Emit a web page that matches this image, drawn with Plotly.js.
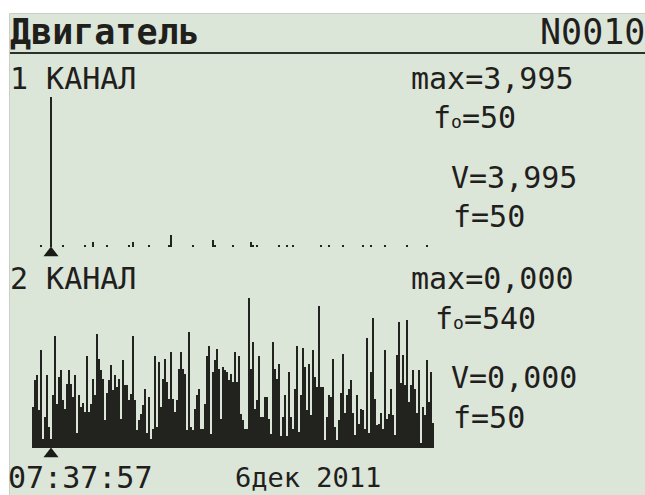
<!DOCTYPE html>
<html><head><meta charset="utf-8">
<script src="https://cdn.plot.ly/plotly-3.0.1.min.js"></script>
<style>html,body{margin:0;padding:0;background:#fff;}#chart{width:645px;height:495px;}</style>
</head><body><div id="chart"></div>
<script>
// ---- data ----
const nBins = 201;
const markerBin = 9;
// channel 1 spectrum: sparse lines (bin index, level)
const ch1Bins   = [4, 9, 15, 26, 30, 37, 48, 50, 58, 68, 69, 80, 90, 91, 100, 109, 110, 112, 123, 127, 130, 144, 148, 155, 165, 169, 176, 187, 197];
const ch1Levels = [2, 150, 2, 2, 5, 2, 2, 5, 2, 2, 12, 2, 7, 2, 2, 5, 2, 2, 2, 2, 2, 2, 2, 2, 2, 2, 2, 2, 2];
// channel 2 spectrum: every bin
const ch2Levels = [
 41,68,73,38,98,9,31,73,21,9,
 53,112,44,71,78,48,39,64,78,64,
 51,73,15,53,41,45,36,92,36,44,
 69,53,114,89,78,69,28,55,68,83,
 58,73,61,69,29,88,63,63,48,54,
 112,48,18,28,34,43,59,15,51,9,
 19,92,21,86,41,69,89,66,49,96,
 49,36,48,79,96,79,74,18,116,21,
 18,39,53,59,19,19,44,92,102,14,
 76,88,99,79,29,81,78,76,68,74,
 66,96,66,92,34,28,19,19,150,79,
 106,39,48,92,31,31,51,51,29,14,
 106,79,69,84,12,31,53,12,76,31,
 19,59,102,16,53,100,81,38,84,33,
 98,71,61,142,61,61,8,31,53,51,
 89,21,8,28,55,94,35,53,59,68,
 35,13,53,24,39,38,19,110,15,76,
 130,49,23,24,35,19,98,29,34,59,
 33,13,93,126,65,93,63,128,46,63,
 78,59,35,78,5,41,33,88,46,76,25];
const title = 'Двигатель';
const fileNo = 'N0010';
const ch1Label = '1 КАНАЛ', ch2Label = '2 КАНАЛ';
const ch1Max = '3,995', ch1F0 = '50', ch1V = '3,995', ch1F = '50';
const ch2Max = '0,000', ch2F0 = '540', ch2V = '0,000', ch2F = '50';
const timeText = '07:37:57', dateText = '6дек 2011';

// ---- build ----
const bins = Array.from({length: nBins}, (_, i) => i);
const ch1Full = bins.map(() => 0);
ch1Bins.forEach((b, i) => { ch1Full[b] = ch1Levels[i]; });

const W = 645, H = 495;
const ink = '#1f201c';
const bg = '#dbe5d8';
const fx = px => px / W;
const fy = py => 1 - py / H;

const traces = [
  {type: 'bar', x: bins, y: ch1Full, xaxis: 'x', yaxis: 'y', width: 1,
   marker: {color: '#22231e', line: {width: 0}}, hoverinfo: 'skip'},
  {type: 'bar', x: bins, y: ch2Levels, xaxis: 'x2', yaxis: 'y2', width: 1,
   marker: {color: '#22231e', line: {width: 0}}, hoverinfo: 'skip'},
  {type: 'scatter', mode: 'markers', x: [markerBin], y: [-6], xaxis: 'x', yaxis: 'y',
   marker: {symbol: 'triangle-up', size: 13, color: '#1a1b17'}, hoverinfo: 'skip'},
  {type: 'scatter', mode: 'markers', x: [markerBin], y: [-6], xaxis: 'x2', yaxis: 'y2',
   marker: {symbol: 'triangle-up', size: 13, color: '#1a1b17'}, hoverinfo: 'skip'}
];

const hidden = {showgrid: false, zeroline: false, showticklabels: false, showline: false, ticks: '', fixedrange: true};
const xd = [fx(32), fx(434)];

function ann(text, x, yc, size, anchor, weight) {
  return {text: text, xref: 'paper', yref: 'paper', x: fx(x), y: fy(yc),
    xanchor: anchor || 'left', yanchor: 'middle', showarrow: false,
    font: {family: 'DejaVu Sans Mono', size: size, color: ink, weight: weight || 'normal'}, borderpad: 0};
}
const sub = '<span style="font-size:18px">o</span>';

const layout = {
  width: W, height: H, margin: {l: 0, r: 0, t: 0, b: 0},
  paper_bgcolor: '#ffffff', plot_bgcolor: 'rgba(0,0,0,0)',
  showlegend: false, bargap: 0,
  xaxis:  Object.assign({domain: xd, range: [-0.5, nBins - 0.5], anchor: 'y'}, hidden),
  yaxis:  Object.assign({domain: [fy(261), fy(97)], range: [-14, 150], anchor: 'x'}, hidden),
  xaxis2: Object.assign({domain: xd, range: [-0.5, nBins - 0.5], anchor: 'y2'}, hidden),
  yaxis2: Object.assign({domain: [fy(462), fy(298)], range: [-14, 150], anchor: 'x2'}, hidden),
  shapes: [
    {type: 'rect', xref: 'paper', yref: 'paper', x0: fx(9.5), x1: 1.01, y0: -0.01, y1: fy(13.5),
     fillcolor: bg, line: {color: '#c9cec6', width: 1}, layer: 'below'},
    {type: 'line', xref: 'paper', yref: 'paper', x0: fx(10), x1: 1, y0: fy(53), y1: fy(53),
     line: {color: '#2e302b', width: 2}}
  ],
  annotations: [
    ann(title, 9, 32, 35, 'left', 'bold'),
    ann(fileNo, 646, 32, 35, 'right'),
    ann(ch1Label, 9, 78, 30),
    ann('max=' + ch1Max, 410, 78, 30),
    ann('f' + sub + '=' + ch1F0, 432, 118, 30),
    ann('V=' + ch1V, 450, 177, 30),
    ann('f=' + ch1F, 452, 217, 30),
    ann(ch2Label, 9, 278, 30),
    ann('max=' + ch2Max, 410, 278, 30),
    ann('f' + sub + '=' + ch2F0, 434, 318, 30),
    ann('V=' + ch2V, 450, 377, 30),
    ann('f=' + ch2F, 452, 417, 30),
    ann(timeText, 7, 477, 30),
    ann(dateText, 234, 477, 27)
  ]
};

Plotly.newPlot('chart', traces, layout, {staticPlot: true, displayModeBar: false});
</script>
</body></html>
